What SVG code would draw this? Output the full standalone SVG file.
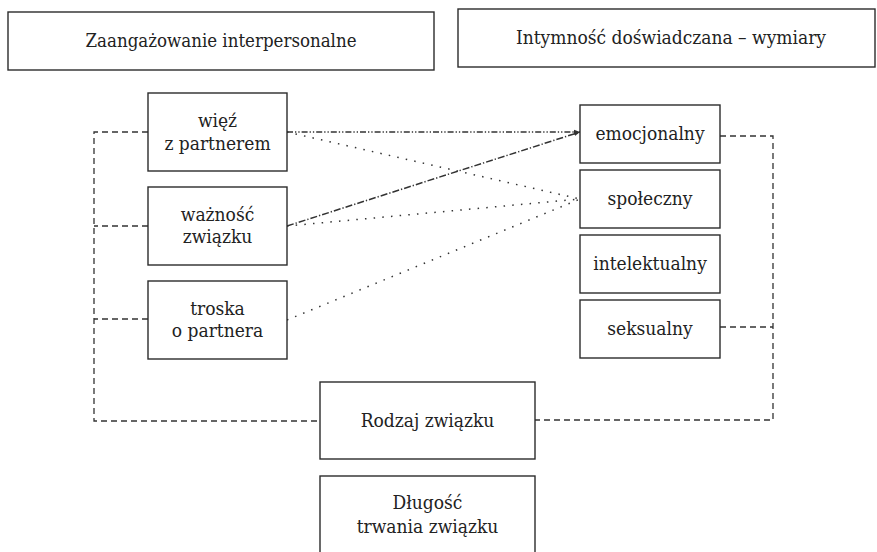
<svg xmlns="http://www.w3.org/2000/svg" width="877" height="552" viewBox="0 0 877 552">
<style>
.box{fill:#fff;stroke:#2b2b2b;stroke-width:1.4}
text{font-family:'DejaVu Serif',serif;font-stretch:condensed;font-size:19px;fill:#222;text-anchor:middle}
.dash{fill:none;stroke:#333;stroke-width:1.3;stroke-dasharray:6 4}
.dot{fill:none;stroke:#333;stroke-width:1.5;stroke-dasharray:1.5 7.2}
.dd{fill:none;stroke:#333;stroke-width:1.5;stroke-dasharray:6 2 1.3 2 1.3 2}
.dsh{fill:none;stroke:#333;stroke-width:1.5;stroke-dasharray:7 2 1.3 2}
</style>
<defs>
<marker id="ah" viewBox="0 0 6 6" refX="6" refY="3" markerWidth="6" markerHeight="6" markerUnits="userSpaceOnUse" orient="auto">
<path d="M0,0.8 L6,3 L0,5.2 Z" fill="#333"/>
</marker>
</defs>
<rect width="877" height="552" fill="#fff"/>
<g id="connectors">
<path class="dash" d="M148,132 H94 V421 H320"/>
<path class="dash" d="M148,226 H94"/>
<path class="dash" d="M148,319 H94"/>
<path class="dash" d="M720,136 H773 V420 H535"/>
<path class="dash" d="M720,327 H773"/>
<line class="dd" x1="287" y1="132" x2="580" y2="132" marker-end="url(#ah)"/>
<line class="dot" x1="287" y1="132" x2="580" y2="199"/>
<line class="dsh" x1="287" y1="226" x2="580" y2="132" marker-end="url(#ah)"/>
<line class="dot" x1="287" y1="226" x2="580" y2="199"/>
<line class="dot" x1="287" y1="320" x2="580" y2="199"/>
</g>
<g id="zaangazowanie">
<rect class="box" x="8" y="12" width="426" height="58"/>
<text x="221" y="47" textLength="271" lengthAdjust="spacingAndGlyphs">Zaangażowanie interpersonalne</text>
</g>
<g id="intymnosc">
<rect class="box" x="458" y="9" width="417" height="58"/>
<text x="671" y="44" textLength="310" lengthAdjust="spacingAndGlyphs">Intymność doświadczana – wymiary</text>
</g>
<g id="wiez">
<rect class="box" x="148" y="93" width="139" height="78"/>
<text x="217.5" y="127">więź</text>
<text x="217.5" y="150">z partnerem</text>
</g>
<g id="waznosc">
<rect class="box" x="148" y="187" width="139" height="78"/>
<text x="217.5" y="221">ważność</text>
<text x="217.5" y="243">związku</text>
</g>
<g id="troska">
<rect class="box" x="148" y="281" width="139" height="78"/>
<text x="217.5" y="315">troska</text>
<text x="217.5" y="337">o partnera</text>
</g>
<g id="emocjonalny">
<rect class="box" x="580" y="105" width="140" height="58"/>
<text x="650" y="140">emocjonalny</text>
</g>
<g id="spoleczny">
<rect class="box" x="580" y="170" width="140" height="58"/>
<text x="650" y="205">społeczny</text>
</g>
<g id="intelektualny">
<rect class="box" x="580" y="235" width="140" height="58"/>
<text x="650" y="270">intelektualny</text>
</g>
<g id="seksualny">
<rect class="box" x="580" y="300" width="140" height="58"/>
<text x="650" y="335">seksualny</text>
</g>
<g id="rodzaj">
<rect class="box" x="320" y="382" width="215" height="77"/>
<text x="427.5" y="427">Rodzaj związku</text>
</g>
<g id="dlugosc">
<rect class="box" x="320" y="476" width="215" height="82"/>
<text x="427.5" y="509">Długość</text>
<text x="427.5" y="533">trwania związku</text>
</g>
</svg>
